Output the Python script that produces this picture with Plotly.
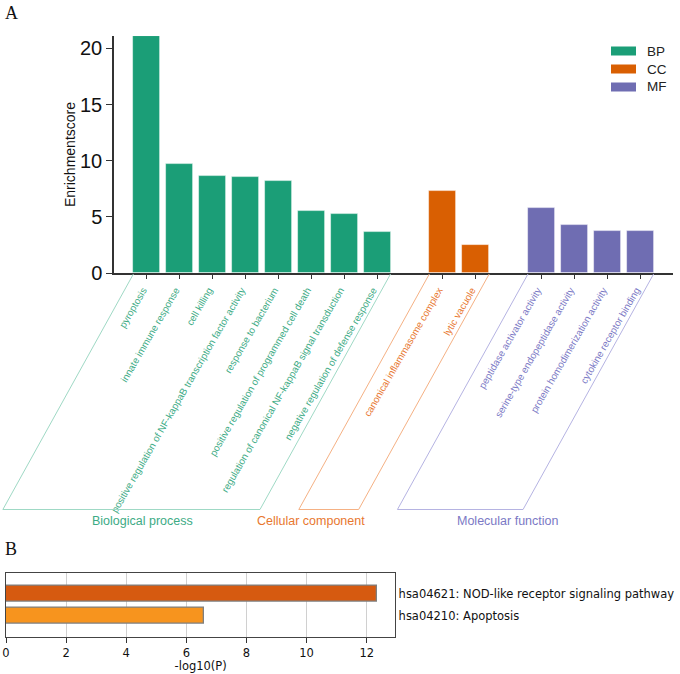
import math
import plotly.graph_objects as go

W, H = 680, 674

# ---------------- data ----------------
bp_terms = ["pyroptosis", "innate immune response", "cell killing",
            "positive regulation of NF-kappaB transcription factor activity",
            "response to bacterium", "positive regulation of programmed cell death",
            "regulation of canonical NF-kappaB signal transduction",
            "negative regulation of defense response"]
bp_scores = [21.1, 9.7, 8.6, 8.55, 8.2, 5.55, 5.25, 3.65]

cc_terms = ["canonical inflammasome complex", "lytic vacuole"]
cc_scores = [7.3, 2.45]

mf_terms = ["peptidase activator activity", "serine-type endopeptidase activity",
            "protein homodimerization activity", "cytokine receptor binding"]
mf_scores = [5.8, 4.3, 3.75, 3.75]

group_codes = ["BP", "CC", "MF"]
group_names = ["Biological process", "Cellular component", "Molecular function"]

kegg_terms = ["hsa04210: Apoptosis", "hsa04621: NOD-like receptor signaling pathway"]
kegg_logp = [6.6, 12.33]

# ---------------- styles ----------------
bar_col = {"BP": "#1b9e77", "CC": "#d95f02", "MF": "#6f6db2"}
txt_col = {"BP": "#3dab85", "CC": "#e8772f", "MF": "#7b79c5"}
ln_col = {"BP": "#9fd9c5", "CC": "#f5b184", "MF": "#b5b3e2"}
kegg_col = ["#f7941e", "#d65a10"]

SANS = "Liberation Sans, Arial, sans-serif"
DJV = "DejaVu Sans, sans-serif"

# top panel geometry (pixels -> paper)
X0, X1 = 114 / W, 673 / W
Y0, Y1 = 1 - 273 / H, 1 - 36 / H
XMIN, XMAX = -1, 16
BW = 0.82

groups = [("BP", bp_terms, bp_scores), ("CC", cc_terms, cc_scores), ("MF", mf_terms, mf_scores)]

fig = go.Figure()
tickvals, ticktext = [], []
spans = []
pos = 0
for code, terms, scores in groups:
    xs = list(range(pos, pos + len(terms)))
    fig.add_trace(go.Bar(x=xs, y=scores, name=code, width=BW,
                         marker=dict(color=bar_col[code], line=dict(color="rgba(255,255,255,0.6)", width=0.8)),
                         xaxis="x", yaxis="y", showlegend=False))
    tickvals += xs
    ticktext += [f"<span style='color:{txt_col[code]}'>{t}</span>" for t in terms]
    spans.append((code, xs[0] - BW / 2, xs[-1] + BW / 2))
    pos = xs[-1] + 2


def xp(v):
    return X0 + (v - XMIN) / (XMAX - XMIN) * (X1 - X0)


shapes = []
annotations = []
top_py, bot_py = 274, 509.5
off_px = (bot_py - top_py) / math.tan(math.radians(61))
for code, a, b in spans:
    xa, xb = xp(a), xp(b)
    dx = off_px / W
    yt, yb = 1 - top_py / H, 1 - bot_py / H
    path = f"M {xa} {yt} L {xa - dx} {yb} L {xb - dx} {yb} L {xb} {yt}"
    shapes.append(dict(type="path", path=path, xref="paper", yref="paper",
                       line=dict(color=ln_col[code], width=1)))

label_px = [142, 311, 507]
for (code, _, _), name, lx in zip(spans, group_names, label_px):
    annotations.append(dict(text=name, x=lx / W, y=1 - 521 / H, xref="paper", yref="paper",
                            showarrow=False, xanchor="center", yanchor="middle",
                            font=dict(family=SANS, size=12.5, color=txt_col[code])))

# legend drawn manually
for i, code in enumerate(group_codes):
    cy = 51 + i * 18
    shapes.append(dict(type="rect", xref="paper", yref="paper",
                       x0=611 / W, x1=636 / W, y0=1 - (cy + 4.5) / H, y1=1 - (cy - 4.5) / H,
                       fillcolor=bar_col[code], line=dict(width=0)))
    annotations.append(dict(text=code, x=645 / W, y=1 - cy / H, xref="paper", yref="paper",
                            showarrow=False, xanchor="left", yanchor="middle",
                            font=dict(family=SANS, size=13.5, color="#222")))

# panel letters
for letter, py in [("A", 13), ("B", 549)]:
    annotations.append(dict(text=letter, x=3 / W, y=1 - py / H, xref="paper", yref="paper",
                            showarrow=False, xanchor="left", yanchor="middle",
                            font=dict(family="Liberation Serif, Times New Roman, serif", size=18, color="#111")))

# ---------------- bottom panel ----------------
fig.add_trace(go.Bar(x=kegg_logp, y=kegg_terms, orientation="h", width=0.74,
                     marker=dict(color=kegg_col, line=dict(color="#7f7f7f", width=1.3)),
                     xaxis="x2", yaxis="y2", showlegend=False))

fig.update_layout(
    width=W, height=H,
    margin=dict(l=0, r=0, t=0, b=0),
    paper_bgcolor="white", plot_bgcolor="white",
    bargap=0,
    shapes=shapes, annotations=annotations,
    xaxis=dict(domain=[X0, X1], range=[XMIN, XMAX], tickmode="array",
               tickvals=tickvals, ticktext=ticktext, tickangle=-60,
               tickfont=dict(family=SANS, size=9.8),
               ticklabelstandoff=2, ticklabelshift=-4,
               showline=True, linecolor="#333", linewidth=1.5,
               ticks="outside", ticklen=4, tickwidth=1.3, tickcolor="#333",
               showgrid=False, zeroline=False, anchor="y", automargin=False),
    yaxis=dict(domain=[Y0, Y1], range=[0, 21.1], tickvals=[0, 5, 10, 15, 20],
               tickfont=dict(family=SANS, size=20, color="#111"),
               showline=True, linecolor="#333", linewidth=1.5,
               ticks="outside", ticklen=6, tickwidth=1.3, tickcolor="#333",
               showgrid=False, zeroline=False, anchor="x", automargin=False,
               title=dict(text="Enrichmentscore", standoff=1,
                          font=dict(family=SANS, size=14, color="#111"))),
    xaxis2=dict(domain=[6 / W, 395.3 / W], range=[0, 12.95], tickvals=[0, 2, 4, 6, 8, 10, 12],
                tickfont=dict(family=DJV, size=11.5, color="#111"),
                showline=True, mirror=True, linecolor="#444", linewidth=1,
                ticks="outside", ticklen=5, tickwidth=1, tickcolor="#333",
                showgrid=True, gridcolor="#d0d0d0", gridwidth=1.3, zeroline=False,
                anchor="y2", automargin=False,
                title=dict(text="-log10(P)", standoff=3, font=dict(family=DJV, size=11.5, color="#111"))),
    yaxis2=dict(domain=[1 - 636.7 / H, 1 - 572.7 / H], range=[-0.955, 1.955],
                type="category", categoryorder="array", categoryarray=kegg_terms,
                side="right", showline=True, mirror=True, linecolor="#444", linewidth=1,
                ticks="", tickfont=dict(family=DJV, size=11.5, color="#111"),
                showgrid=False, zeroline=False, anchor="x2", automargin=False),
)

fig.write_html("out.html")
